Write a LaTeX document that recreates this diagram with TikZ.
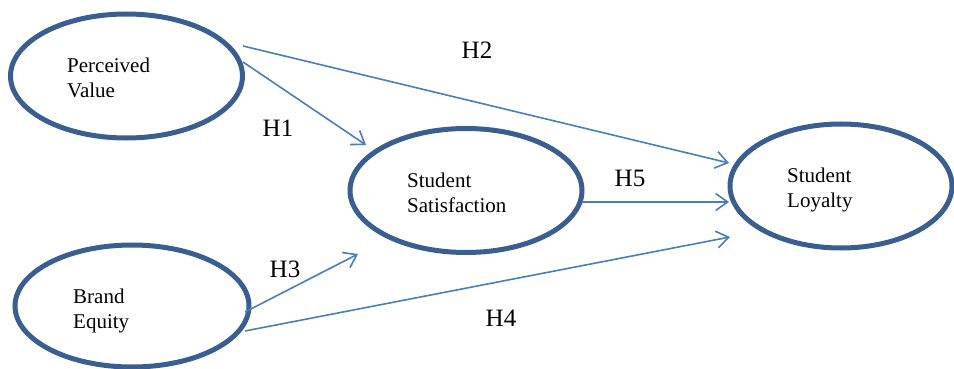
\documentclass[tikz,border=0pt]{standalone}
\usepackage{fontspec}
\setmainfont{Liberation Serif}
\usetikzlibrary{shapes.geometric,arrows.meta}
\definecolor{ringblue}{RGB}{57,94,143}
\definecolor{linkblue}{RGB}{74,126,187}
\tikzset{
    construct/.style={draw=ringblue, line width=5pt, ellipse, inner sep=0pt},
    caption/.style={align=left, inner sep=0pt, anchor=base west, font=\fontsize{21}{25}\selectfont},
    hyp/.style={inner sep=0pt, font=\fontsize{25}{30}\selectfont},
    link/.style={draw=linkblue, line width=1.6pt, -{Straight Barb[length=12pt,width=17pt,line width=1.6pt]}}
}
\begin{document}
\begin{tikzpicture}[x=1pt,y=-1pt]
                    \useasboundingbox (0,0) rectangle (954,369);

                    \node[construct, minimum width=232pt, minimum height=124pt] (pv) at (126.5,76) {};
                    \node[construct, minimum width=234pt, minimum height=122pt] (be) at (132,306) {};
                    \node[construct, minimum width=232pt, minimum height=124pt] (ss) at (466,190.5) {};
                    \node[construct, minimum width=222pt, minimum height=124pt] (sl) at (841,186) {};

                    \node[caption] (pvtext) at (67,98) {Perceived\\Value};
                    \node[caption] (betext) at (73,328) {Brand\\Equity};
                    \node[caption] (sstext) at (407,212) {Student\\Satisfaction};
                    \node[caption] (sltext) at (787,207) {Student\\Loyalty};

                    \coordinate (pvA) at (243,46);
                    \coordinate (pvB) at (243,62);
                    \coordinate (beA) at (245,312);
                    \coordinate (beB) at (245,331);
                    \coordinate (ssIn1) at (366,145);
                    \coordinate (ssIn3) at (358,254);
                    \coordinate (ssOut) at (582,202);
                    \coordinate (slIn2) at (729,163);
                    \coordinate (slIn5) at (729,202);
                    \coordinate (slIn4) at (730,237);

                    \draw[link] (pvB) -- (ssIn1);
                    \draw[link] (pvA) -- (slIn2);
                    \draw[link] (beA) -- (ssIn3);
                    \draw[link] (beB) -- (slIn4);
                    \draw[link] (ssOut) -- (slIn5);

                    \node[hyp] (h1) at (278,128) {H1};
                    \node[hyp] (h2) at (477,50) {H2};
                    \node[hyp] (h3) at (285,269) {H3};
                    \node[hyp] (h4) at (501,318) {H4};
                    \node[hyp] (h5) at (630,178) {H5};

                \end{tikzpicture}
\end{document}
